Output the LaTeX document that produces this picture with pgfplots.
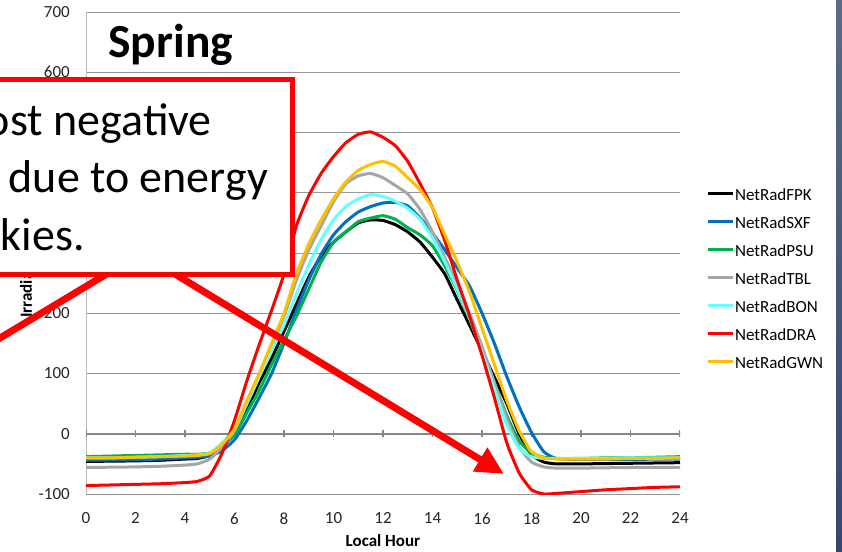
\documentclass[border=0pt]{standalone}
\usepackage{fontspec}
\setmainfont{Carlito}
\usepackage{pgfplots}
\pgfplotsset{compat=1.18}
\usetikzlibrary{arrows.meta}
\definecolor{gridgray}{RGB}{150,150,150}
\definecolor{axisgray}{RGB}{190,190,190}
\definecolor{zerogray}{RGB}{134,134,134}
\definecolor{cFPK}{RGB}{0,0,0}
\definecolor{cSXF}{RGB}{0,112,192}
\definecolor{cPSU}{RGB}{0,176,80}
\definecolor{cTBL}{RGB}{166,166,166}
\definecolor{cBON}{RGB}{102,255,255}
\definecolor{cDRA}{RGB}{255,0,0}
\definecolor{cGWN}{RGB}{255,192,0}
\definecolor{barTop}{RGB}{90,106,135}
\definecolor{barBot}{RGB}{52,72,110}
\begin{document}
\begin{tikzpicture}
\useasboundingbox (0,0) rectangle (842bp,-552bp);
\clip (0,0) rectangle (842bp,-552bp);
\fill[white] (0,0) rectangle (842bp,-552bp);
\begin{axis}[
  at={(86bp,-494bp)}, anchor=south west,
  scale only axis, width=594bp, height=482bp,
  xmin=0, xmax=24, ymin=-100, ymax=700,
  xtick={0,2,...,24}, ytick={-100,0,...,700},
  axis lines*=left,
  x axis line style={draw=gridgray, line width=0.9bp},
  y axis line style={draw=axisgray, line width=0.9bp},
  major tick length=0pt,
  ymajorgrids, grid style={draw=gridgray, line width=0.9bp},
  tick label style={font=\fontsize{17bp}{20bp}\selectfont, inner sep=0pt, text=black!85},
  /pgf/number format/assume math mode=true,
  xticklabel style={anchor=north, yshift=-18.5bp},
  yticklabel style={anchor=east, xshift=-16bp},
  ylabel={Irradiance},
  ylabel style={font=\fontsize{17bp}{20bp}\selectfont\bfseries, at={(axis description cs:-0.101,0.365)}, anchor=west, inner sep=0pt},
  xlabel={Local Hour},
  xlabel style={font=\fontsize{17bp}{20bp}\selectfont\bfseries, at={(axis description cs:0.5,0)}, anchor=center, yshift=-47bp},
  legend style={at={(1.0438,0.64315)}, anchor=north west, draw=none, fill=none, inner sep=0pt, outer sep=0pt,
    font=\fontsize{17bp}{19bp}\selectfont, row sep=0pt, column sep=1bp,
    nodes={inner sep=0pt, text height=16bp, text depth=12bp}},
  legend cell align=left,
  legend image code/.code={\draw[#1, line width=3bp] (0bp,5bp) -- (25bp,5bp);},
  every axis plot/.append style={line width=3bp, line join=round, smooth, tension=0.3},
]
\addplot[forget plot, sharp plot, zerogray, line width=1.5bp, error bars/.cd, y dir=both, y fixed=5.5, error mark=none, error bar style={line width=1.2bp, zerogray}]
 coordinates {(0,0)(2,0)(4,0)(6,0)(8,0)(10,0)(12,0)(14,0)(16,0)(18,0)(20,0)(22,0)(24,0)};
\addplot[cFPK] coordinates {(0,-46)(1,-45.5)(2,-45)(3,-44)(4,-42)(4.5,-41)(5,-36)(5.5,-20)(6,0)(6.5,40)(7,85)(7.5,125)(8,170)(8.5,215)(9,260)(9.5,295)(10,318)(10.5,335)(11,350)(11.5,355)(12,354)(12.5,347)(13,335)(13.5,318)(14,293)(14.5,265)(15,222)(15.5,180)(16,137)(16.5,94)(17,50)(17.5,0)(18,-35)(18.5,-47)(19,-50)(20,-50)(21,-49.5)(22,-49)(23,-48.5)(24,-48)};
\addlegendentry{NetRadFPK}
\addplot[cSXF] coordinates {(0,-44)(1,-43.5)(2,-43)(3,-42)(4,-40)(4.5,-39)(5,-37)(5.5,-28)(6,-10)(6.5,22)(7,60)(7.5,100)(8,150)(8.5,205)(9,255)(9.5,298)(10,330)(10.5,352)(11,368)(11.5,377)(12,383)(12.5,384)(13,378)(13.5,358)(14,333)(14.5,305)(15,275)(15.5,245)(16,200)(16.5,150)(17,95)(17.5,45)(18,2)(18.5,-30)(19,-41)(20,-43)(21,-43)(22,-43)(23,-42)(24,-42)};
\addlegendentry{NetRadSXF}
\addplot[cPSU] coordinates {(0,-38)(1,-37)(2,-36)(3,-35)(4,-34)(4.5,-34)(5,-32)(5.5,-20)(6,-2)(6.5,35)(7,72)(7.5,115)(8,155)(8.5,195)(9,240)(9.5,285)(10,318)(10.5,335)(11,352)(11.5,358)(12,362)(12.5,356)(13,342)(13.5,330)(14,312)(14.5,278)(15,238)(15.5,190)(16,138)(16.5,85)(17,30)(17.5,-12)(18,-32)(18.5,-39)(19,-41)(20,-41)(21,-40)(22,-40)(23,-39)(24,-38)};
\addlegendentry{NetRadPSU}
\addplot[cTBL] coordinates {(0,-56)(1,-55.5)(2,-55)(3,-54)(4,-52)(4.5,-50)(5,-42)(5.5,-22)(6,5)(6.5,50)(7,95)(7.5,145)(8,195)(8.5,255)(9,305)(9.5,345)(10,385)(10.5,415)(11,428)(11.5,432)(12,425)(12.5,412)(13,398)(13.5,372)(14,335)(14.5,292)(15,248)(15.5,200)(16,145)(16.5,85)(17,25)(17.5,-22)(18,-47)(18.5,-55)(19,-57)(20,-57)(21,-56.5)(22,-56)(23,-56)(24,-56)};
\addlegendentry{NetRadTBL}
\addplot[cBON] coordinates {(0,-40)(1,-40)(2,-39)(3,-38)(4,-36)(4.5,-35)(5,-32)(5.5,-15)(6,8)(6.5,50)(7,95)(7.5,138)(8,180)(8.5,232)(9,280)(9.5,322)(10,355)(10.5,377)(11,390)(11.5,397)(12,394)(12.5,386)(13,374)(13.5,356)(14,325)(14.5,285)(15,240)(15.5,192)(16,135)(16.5,75)(17,15)(17.5,-25)(18,-38)(18.5,-41)(19,-41)(20,-41)(21,-41)(22,-40)(23,-40)(24,-40)};
\addlegendentry{NetRadBON}
\addplot[cDRA] coordinates {(0,-86)(1,-85)(2,-84)(3,-83)(4,-81)(4.5,-79)(5,-70)(5.5,-32)(6,22)(6.5,88)(7,148)(7.5,205)(8,265)(8.5,345)(9,395)(9.5,432)(10,460)(10.5,483)(11,497)(11.5,501)(12,492)(12.5,478)(13,452)(13.5,415)(14,375)(14.5,320)(15,255)(15.5,195)(16,130)(16.5,60)(17,-15)(17.5,-65)(18,-93)(18.5,-100)(19,-99)(20,-96)(21,-93)(22,-91)(23,-89)(24,-88)};
\addlegendentry{NetRadDRA}
\addplot[cGWN] coordinates {(0,-40)(1,-40)(2,-39)(3,-38)(4,-37)(4.5,-36)(5,-33)(5.5,-18)(6,8)(6.5,55)(7,100)(7.5,150)(8,200)(8.5,265)(9,315)(9.5,355)(10,390)(10.5,418)(11,437)(11.5,447)(12,452)(12.5,444)(13,425)(13.5,405)(14,375)(14.5,330)(15,285)(15.5,235)(16,175)(16.5,115)(17,55)(17.5,5)(18,-30)(18.5,-40)(19,-42)(20,-42)(21,-42)(22,-41)(23,-41)(24,-40)};
\addlegendentry{NetRadGWN}
\node[anchor=base west, inner sep=0pt, font=\fontsize{47.5bp}{50bp}\selectfont\bfseries] at (rel axis cs:0.0375,0.9046) {Spring};
\end{axis}
\begin{scope}[x=1bp,y=-1bp]
  \draw[cDRA, line width=7bp] (-60,374) -- (120,266);
  \draw[cDRA, line width=7bp, -{Triangle[length=28bp,width=26bp]}] (165,268) -- (504,474);
  \draw[cDRA, line width=5bp, fill=white] (-20,79) rectangle (292.5,274.5);
  \node[anchor=base east, inner sep=0pt, font=\fontsize{46bp}{50bp}\selectfont] at (212,135) {most negative};
  \node[anchor=base east, inner sep=0pt, font=\fontsize{46bp}{50bp}\selectfont] at (268,192) {due to energy};
  \node[anchor=base east, inner sep=0pt, font=\fontsize{46bp}{50bp}\selectfont] at (85,250) {skies.};
  \shade[top color=barTop, bottom color=barBot] (836,0) rectangle (842,552);
\end{scope}
\end{tikzpicture}
\end{document}
